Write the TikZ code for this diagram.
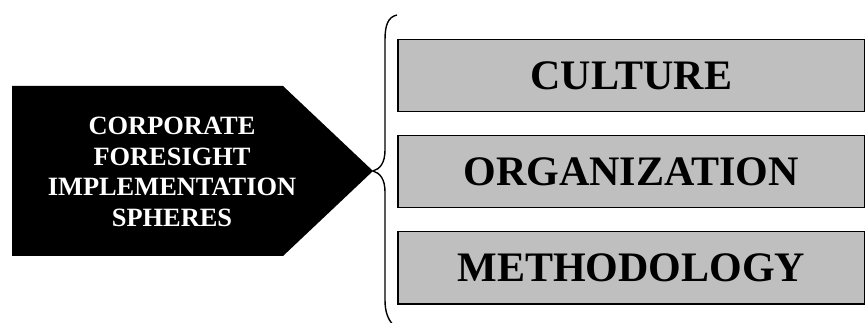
\documentclass[tikz,border=0pt]{standalone}
\usepackage{fontspec}
\setmainfont{Liberation Serif}
\begin{document}
\begin{tikzpicture}[x=1pt,y=-1pt,
  sphere/.style={draw=black, line width=1.5pt, fill=black!25!white,
    minimum width=467pt, minimum height=72pt, inner sep=0pt, anchor=north west,
    font=\fontsize{42}{48}\selectfont\bfseries},
  heading/.style={text=white, align=center, inner sep=0pt,
    font=\fontsize{26.4}{30.7}\selectfont\bfseries},
  bracket/.style={draw=black, line width=1.4pt}]
  \useasboundingbox (0,0) rectangle (865,323);

  % pointed heading block
  \coordinate (tl) at (12,86);
  \coordinate (sh1) at (283,86);
  \coordinate (tip) at (373,171);
  \coordinate (sh2) at (283,256);
  \coordinate (bl) at (12,256);
  \fill[black] (tl) -- (sh1) -- (tip) -- (sh2) -- (bl) -- cycle;
  \node[heading] (head) at (172,172) {CORPORATE\\FORESIGHT\\IMPLEMENTATION\\SPHERES};

  % the three spheres
  \node[sphere] (culture) at (397,39) {CULTURE};
  \node[sphere] (org) at (397,135) {ORGANIZATION};
  \node[sphere] (method) at (397,231) {METHODOLOGY};

  % curly brace grouping the spheres
  \coordinate (btop) at (397,15);
  \coordinate (bbot) at (393,325);
  \draw[bracket] (btop) .. controls (388,17) and (385,25) .. (385,40)
    -- (385,150) .. controls (385,163) and (380,169) .. (tip)
    .. controls (380,173) and (385,179) .. (385,192)
    -- (385,300) .. controls (385,312) and (388,319) .. (bbot);
\end{tikzpicture}
\end{document}
